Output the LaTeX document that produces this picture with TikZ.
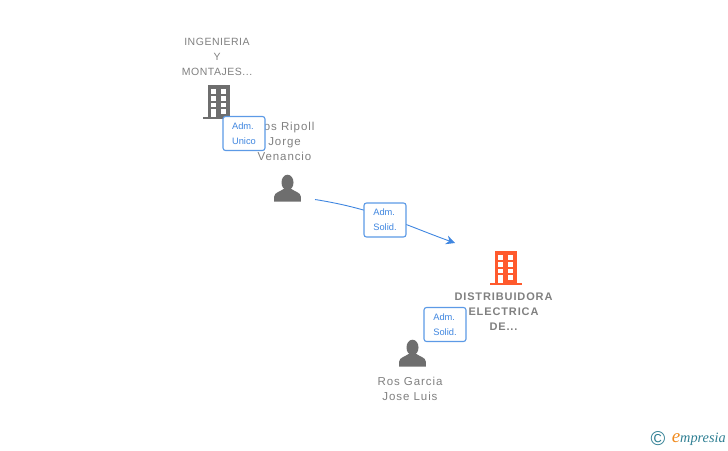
\documentclass[tikz,border=0pt]{standalone}
\usepackage{fontspec}
\setmainfont{Liberation Sans}
\newfontfamily\logofont{Liberation Serif}
\usetikzlibrary{positioning, arrows.meta, calc}

\definecolor{icongray}{HTML}{6E6E6E}
\definecolor{textgray}{HTML}{808080}
\definecolor{iconred}{HTML}{FF5A2D}
\definecolor{tagblue}{HTML}{3F86E0}
\definecolor{tagline}{HTML}{5C9AE6}
\definecolor{logoteal}{HTML}{2F7F93}
\definecolor{logoorange}{HTML}{F08A1D}

\tikzset{
	x=1pt, y=1pt,
	iconbox/.style={minimum width=30pt, minimum height=34pt, inner sep=0pt},
	caption/.style={text=textgray, font=\fontsize{11.5}{15}\selectfont\addfontfeature{LetterSpace=8}, align=center, inner sep=0pt},
	tag/.style={draw=tagline, fill=white, rounded corners=2.5pt, line width=1.1pt, text=tagblue,
		minimum width=42pt, minimum height=34pt, inner sep=0pt, align=left,
		font=\fontsize{9.3}{15}\selectfont},
	link/.style={draw=tagblue, line width=0.9pt, -{Stealth[length=9pt, width=9pt, inset=3pt]}},
	building/.pic={
		\fill[#1] (-11,-17) rectangle (11,17);
		\fill[#1] (-16,-17) rectangle (16,-14.5);
		\foreach \i in {-7.7,2.4}
			\foreach \j in {4,11,17.5,24}
				\fill[white] (\i,17-\j) rectangle ++(5,-4.6);
		\fill[white] (-7.7,-6.5) rectangle (-2.7,-14.5);
		\fill[white] (2.4,-6.5) rectangle (7.4,-11.1);
	},
	person/.pic={
		\fill[icongray] (0,5.5) ellipse (6 and 7.8);
		\fill[icongray] (-13.3,-13.5) -- (-13.3,-8.5) .. controls (-13.3,-4.5) and (-7,-3.5) .. (-4,-1)
			-- (4,-1) .. controls (7,-3.5) and (13.3,-4.5) .. (13.3,-8.5) -- (13.3,-13.5) -- cycle;
	}
}

\begin{document}
\begin{tikzpicture}
		\useasboundingbox (0,0) rectangle (728,-450);

		\node[iconbox] (c0) at (219,-102) {};
		\pic at (c0) {building=icongray};
		\node[caption, above=9pt of c0, xshift=-2pt, font=\fontsize{10.5}{15}\selectfont\addfontfeature{LetterSpace=5}] (c0text) {INGENIERIA\\Y\\MONTAJES...};

		\node[iconbox] (c1) at (506,-268) {};
		\pic at (c1) {building=iconred};
		\node[caption, below=7pt of c1, xshift=-2.5pt, font=\bfseries\fontsize{11}{15}\selectfont\addfontfeature{LetterSpace=8}] (c1text) {DISTRIBUIDORA\\ELECTRICA\\DE...};

		\node[iconbox] (p0) at (287.5,-188) {};
		\pic at (p0) {person};
		\node[caption, above=10pt of p0, xshift=-3pt] (p0text) {Ros Ripoll\\Jorge\\Venancio};

		\node[iconbox] (p1) at (412.5,-353) {};
		\pic at (p1) {person};
		\node[caption, below=6.5pt of p1, xshift=-2.5pt] (p1text) {Ros Garcia\\Jose Luis};

		\coordinate (a0) at (315,-199.5);
		\coordinate (a1) at (455,-243);
		\draw[link] (a0) .. controls (375,-209) and (405,-225) .. (a1);

		\node[tag] (t0) at (244,-133.5) {Adm.\\Unico};
		\node[tag] (t1) at (385,-220) {Adm.\\Solid.};
		\node[tag] (t2) at (445,-324.5) {Adm.\\Solid.};

		\node[text=logoteal, font=\fontsize{20}{20}\selectfont, inner sep=0pt] (copy) at (658,-439) {©};
		\node[right=6pt of copy, inner sep=0pt, text=logoteal, font=\logofont\itshape\fontsize{14.3}{14}\selectfont] (logo)
			{{\color{logoorange}\fontsize{19}{19}\selectfont e}mpresia};
	\end{tikzpicture}
\end{document}
